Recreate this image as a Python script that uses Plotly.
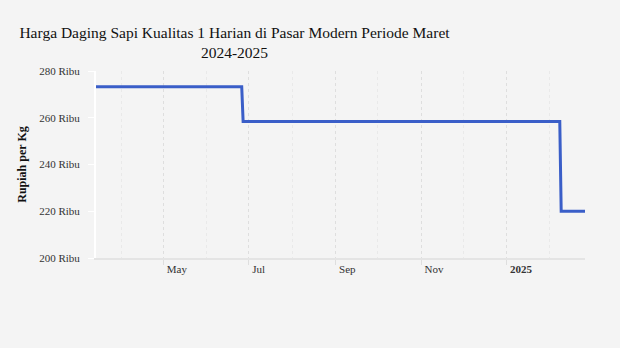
import plotly.graph_objects as go

# Data
dates = ["2024-03-14", "2024-06-26", "2024-06-27", "2025-02-08", "2025-02-09", "2025-02-26"]
prices = [273300, 273300, 258400, 258400, 220000, 220000]

y_tick_vals = [200000, 220000, 240000, 260000, 280000]
y_tick_text = ["200 Ribu", "220 Ribu", "240 Ribu", "260 Ribu", "280 Ribu"]

x_tick_vals = ["2024-05-01", "2024-07-01", "2024-09-01", "2024-11-01", "2025-01-01"]
x_tick_text = ["May", "Jul", "Sep", "Nov", "<b>2025</b>"]
x_minor_vals = ["2024-04-01", "2024-06-01", "2024-08-01", "2024-10-01", "2024-12-01", "2025-02-01"]

title_text = "Harga Daging Sapi Kualitas 1 Harian di Pasar Modern Periode Maret<br>2024-2025"

BG = "#f4f4f4"
SERIF = "Liberation Serif, Times New Roman, serif"

fig = go.Figure()
fig.add_trace(go.Scatter(
    x=dates, y=prices, mode="lines",
    line=dict(color="#3a5ec8", width=3),
    showlegend=False, hoverinfo="skip",
))

fig.update_layout(
    width=620, height=348,
    paper_bgcolor=BG, plot_bgcolor=BG,
    margin=dict(l=96, r=35, t=71, b=90),
    font=dict(family=SERIF, color="#333333", size=11),
    title=dict(
        text=title_text,
        font=dict(family=SERIF, size=15.5, color="#111111"),
        xref="container", x=234.5 / 620, xanchor="center",
        yref="container", y=1 - 38 / 348, yanchor="top",
    ),
    showlegend=False,
)

fig.update_xaxes(
    type="date",
    range=["2024-03-14", "2025-02-26"],
    tickmode="array", tickvals=x_tick_vals, ticktext=x_tick_text,
    ticklabelposition="outside right", ticklabelshift=2,
    tickfont=dict(family=SERIF, size=11, color="#333333"),
    showgrid=True, gridcolor="#dedede", gridwidth=1, griddash="3px,3px",
    ticks="outside", ticklen=5, tickcolor="#dedede", tickwidth=1,
    minor=dict(tickmode="array", tickvals=x_minor_vals, showgrid=True,
               gridcolor="#e9e9e9", gridwidth=1, griddash="3px,3px", ticks=""),
    showline=True, linecolor="#e4e4e4", linewidth=2,
    zeroline=False, fixedrange=True,
)

fig.update_yaxes(
    range=[200000, 280000],
    tickmode="array", tickvals=y_tick_vals, ticktext=y_tick_text,
    tickfont=dict(family=SERIF, size=11, color="#333333"),
    showgrid=False, zeroline=False,
    showline=True, linecolor="#ffffff", linewidth=2,
    ticks="outside", ticklen=6, tickcolor="#ffffff", tickwidth=1,
    ticklabelstandoff=6,
    title=dict(text="<b>Rupiah per Kg</b>", font=dict(family=SERIF, size=12, color="#111111"), standoff=10),
    fixedrange=True,
)

fig.write_html("out.html")
